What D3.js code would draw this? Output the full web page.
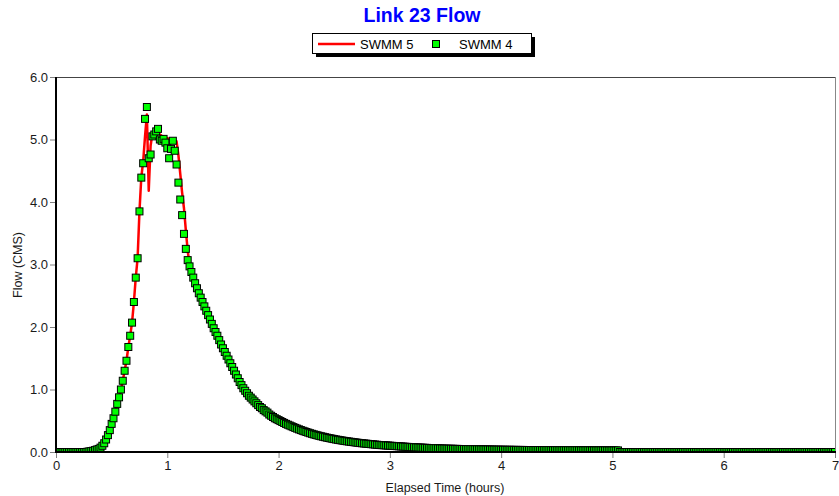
<!DOCTYPE html>
<html>
<head>
<meta charset="utf-8">
<script src="https://cdn.jsdelivr.net/npm/d3@7"></script>
<style>
  html, body { margin: 0; padding: 0; background: #fff; }
  svg { display: block; font-family: "Liberation Sans", Arial, sans-serif; }
</style>
</head>
<body>
<svg id="chart" width="839" height="496"></svg>
<script>
// ---------------- DATA ----------------
const chartTitle = "Link 23 Flow";
const seriesNames = ["SWMM 5", "SWMM 4"];
const xTicks = [0, 1, 2, 3, 4, 5, 6, 7];
const yTicks = [0, 1, 2, 3, 4, 5, 6];
const stepHours = 1 / 60; // one reading per minute, 0 .. 7 h

// SWMM 4 flow (CMS), one value per minute
const swmm4 = [
  0,0,0,0,0,0,0,0,0,0, 0,0,0,0,0,0,0,0.005,0.01,0.015,
  0.02,0.03,0.04,0.05,0.07,0.10,0.14,0.20,0.27,0.35,
  0.45,0.54,0.645,0.77,0.875,1.00,1.14,1.30,1.46,1.68,
  1.86,2.07,2.40,2.79,3.10,3.85,4.39,4.62,5.33,5.52,
  4.70,4.76,5.05,5.08,5.13,5.17,5.00,4.98,5.01,4.95,
  4.86,4.70,4.85,4.98,4.82,4.60,4.31,4.04,3.79,3.49,
  3.25,3.07,2.97,2.88,2.79,2.70,2.62,2.54,2.47,2.40,
  2.33,2.26,2.19,2.12,2.05,1.98,1.92,1.86,1.79,1.72,
  1.66,1.60,1.54,1.48,1.42,1.36,1.30,1.24,1.18,1.12,
  1.07,1.02,0.98,0.94,0.90,0.87,0.84,0.81,0.78,0.75,
  0.72,0.70,0.67,0.65,0.63,0.60,0.58,0.56,0.54,0.525,
  0.51,0.495,0.48,0.465,0.45,0.437,0.424,0.411,0.398,0.386,
  0.374,0.362,0.351,0.340,0.330,0.320,0.310,0.300,0.291,0.282,
  0.274,0.266,0.258,0.251,0.244,0.237,0.230,0.224,0.218,0.212,
  0.206,0.200,0.195,0.190,0.185,0.180,0.175,0.171,0.167,0.163,
  0.159,0.155,0.151,0.147,0.143,0.140,0.137,0.134,0.131,0.128,
  0.125,0.122,0.119,0.116,0.113,0.111,0.109,0.107,0.105,0.103,
  0.101,0.099,0.097,0.095,0.093,0.091,0.089,0.087,0.085,0.083,
  0.081,0.079,0.077,0.076,0.074,0.073,0.071,0.070,0.068,0.067,
  0.066,0.064,0.063,0.062,0.061,0.060,0.058,0.057,0.056,0.055,
  0.054,0.053,0.052,0.052,0.051,0.050,0.050,0.049,0.048,0.048,
  0.047,0.046,0.046,0.045,0.045,0.044,0.043,0.043,0.042,0.042,
  0.041,0.041,0.040,0.040,0.039,0.039,0.038,0.038,0.037,0.037,
  0.036,0.036,0.036,0.035,0.035,0.035,0.034,0.034,0.034,0.033,
  0.033,0.033,0.033,0.032,0.032,0.032,0.032,0.031,0.031,0.031,
  0.031,0.031,0.030,0.030,0.030,0.030,0.030,0.029,0.029,0.029,
  0.029,0.029,0.029,0.028,0.028,0.028,0.028,0.028,0.028,0.028,
  0.027,0.027,0.027,0.027,0.027,0.027,0.027,0.027,0.026,0.026,
  0.026,0.026,0.026,0.026,0.026,0.026,0.026,0.025,0.025,0.025,
  0.025,0.025,0.025,0.025,0,0,0,0,0,0,
  0,0,0,0,0,0,0,0,0,0, 0,0,0,0,0,0,0,0,0,0,
  0,0,0,0,0,0,0,0,0,0, 0,0,0,0,0,0,0,0,0,0,
  0,0,0,0,0,0,0,0,0,0, 0,0,0,0,0,0,0,0,0,0,
  0,0,0,0,0,0,0,0,0,0, 0,0,0,0,0,0,0,0,0,0,
  0,0,0,0,0,0,0,0,0,0, 0,0,0,0,0,0,0,0,0,0,
  0,0,0,0,0,0,0,0,0,0, 0
];

// SWMM 5 flow (CMS), one value per minute
const swmm5 = [
  0,0,0,0,0,0,0,0,0,0, 0,0,0,0,0,0,0,0.005,0.01,0.015,
  0.02,0.03,0.04,0.05,0.07,0.10,0.14,0.20,0.27,0.35,
  0.45,0.54,0.645,0.77,0.875,1.00,1.14,1.30,1.46,1.68,
  1.86,2.07,2.40,2.79,3.10,3.85,4.40,4.65,5.05,5.40,
  4.18,4.90,5.10,5.12,5.12,5.10,5.08,5.06,5.04,5.03,
  5.02,5.01,5.00,5.00,4.99,4.97,4.75,4.45,4.15,3.90,
  3.55,3.22,3.00,2.88,2.79,2.70,2.62,2.54,2.47,2.40,
  2.33,2.26,2.19,2.12,2.05,1.98,1.92,1.86,1.79,1.72,
  1.66,1.60,1.54,1.48,1.42,1.36,1.30,1.24,1.18,1.12,
  1.07,1.02,0.98,0.94,0.90,0.87,0.84,0.81,0.78,0.75,
  0.72,0.70,0.67,0.65,0.63,0.60,0.58,0.56,0.54,0.525,
  0.51,0.495,0.48,0.465,0.45,0.437,0.424,0.411,0.398,0.386,
  0.374,0.362,0.351,0.340,0.330,0.320,0.310,0.300,0.291,0.282,
  0.274,0.266,0.258,0.251,0.244,0.237,0.230,0.224,0.218,0.212,
  0.206,0.200,0.195,0.190,0.185,0.180,0.175,0.171,0.167,0.163,
  0.159,0.155,0.151,0.147,0.143,0.140,0.137,0.134,0.131,0.128,
  0.125,0.122,0.119,0.116,0.113,0.111,0.109,0.107,0.105,0.103,
  0.101,0.099,0.097,0.095,0.093,0.091,0.089,0.087,0.085,0.083,
  0.081,0.079,0.077,0.076,0.074,0.073,0.071,0.070,0.068,0.067,
  0.066,0.064,0.063,0.062,0.061,0.060,0.058,0.057,0.056,0.055,
  0.054,0.053,0.052,0.052,0.051,0.050,0.050,0.049,0.048,0.048,
  0.047,0.046,0.046,0.045,0.045,0.044,0.043,0.043,0.042,0.042,
  0.041,0.041,0.040,0.040,0.039,0.039,0.038,0.038,0.037,0.037,
  0.036,0.036,0.036,0.035,0.035,0.035,0.034,0.034,0.034,0.033,
  0.033,0.033,0.033,0.032,0.032,0.032,0.032,0.031,0.031,0.031,
  0.031,0.031,0.030,0.030,0.030,0.030,0.030,0.029,0.029,0.029,
  0.029,0.029,0.029,0.028,0.028,0.028,0.028,0.028,0.028,0.028,
  0.027,0.027,0.027,0.027,0.027,0.027,0.027,0.027,0.026,0.026,
  0.026,0.026,0.026,0.026,0.026,0.026,0.026,0.025,0.025,0.025,
  0.025,0.025,0.025,0.025,0,0,0,0,0,0,
  0,0,0,0,0,0,0,0,0,0, 0,0,0,0,0,0,0,0,0,0,
  0,0,0,0,0,0,0,0,0,0, 0,0,0,0,0,0,0,0,0,0,
  0,0,0,0,0,0,0,0,0,0, 0,0,0,0,0,0,0,0,0,0,
  0,0,0,0,0,0,0,0,0,0, 0,0,0,0,0,0,0,0,0,0,
  0,0,0,0,0,0,0,0,0,0, 0,0,0,0,0,0,0,0,0,0,
  0,0,0,0,0,0,0,0,0,0, 0
];

// ---------------- CHART ----------------
const W = 839, H = 496;
const plot = { left: 56, right: 835, top: 77, bottom: 452 };
const svg = d3.select("#chart");
svg.append("rect").attr("width", W).attr("height", H).attr("fill", "#fff");

const x = d3.scaleLinear().domain([0, 7]).range([plot.left, plot.right]);
const y = d3.scaleLinear().domain([0, 6]).range([plot.bottom, plot.top]);

// frame (top / right thin)
svg.append("line").attr("x1", plot.left).attr("x2", plot.right)
  .attr("y1", plot.top + 0.5).attr("y2", plot.top + 0.5)
  .attr("stroke", "#444").attr("stroke-width", 1);
svg.append("line").attr("x1", plot.right + 0.5).attr("x2", plot.right + 0.5)
  .attr("y1", plot.top).attr("y2", plot.bottom)
  .attr("stroke", "#888").attr("stroke-width", 1);

// clip
svg.append("clipPath").attr("id", "clip").append("rect")
  .attr("x", plot.left).attr("y", plot.top)
  .attr("width", plot.right - plot.left).attr("height", plot.bottom - plot.top);

const g = svg.append("g").attr("clip-path", "url(#clip)");

const pts5 = swmm5.map((v, i) => ({ t: i * stepHours, v }));
const pts4 = swmm4.map((v, i) => ({ t: i * stepHours, v }));

g.append("path").datum(pts5)
  .attr("fill", "none").attr("stroke", "#ff0000").attr("stroke-width", 2.5)
  .attr("stroke-linejoin", "round")
  .attr("d", d3.line().x(d => x(d.t)).y(d => y(d.v)));

const ms = 7;
g.selectAll("rect.m").data(pts4).join("rect")
  .attr("class", "m")
  .attr("x", d => x(d.t) - ms / 2).attr("y", d => y(d.v) - ms / 2)
  .attr("width", ms).attr("height", ms)
  .attr("fill", "#00ff00").attr("stroke", "#000").attr("stroke-width", 1);

// axes
const fmtY = d3.format(".1f");
const yAxis = svg.append("g").attr("transform", `translate(${plot.left},0)`)
  .call(d3.axisLeft(y).tickValues(yTicks).tickFormat(fmtY).tickSize(6).tickPadding(2));
const xAxis = svg.append("g").attr("transform", `translate(0,${plot.bottom})`)
  .call(d3.axisBottom(x).tickValues(xTicks).tickFormat(d3.format("d")).tickSize(6).tickPadding(3));
[yAxis, xAxis].forEach(a => {
  a.select(".domain").remove();
  a.selectAll(".tick line").attr("stroke", "#808080");
  a.selectAll(".tick text").attr("fill", "#1a1a1a")
    .style("font-family", "'Liberation Sans', Arial, sans-serif").style("font-size", "13px");
});

// thick axis lines
svg.append("line").attr("x1", plot.left).attr("x2", plot.left)
  .attr("y1", plot.top).attr("y2", plot.bottom + 1)
  .attr("stroke", "#000").attr("stroke-width", 2);
svg.append("line").attr("x1", plot.left - 1).attr("x2", plot.right + 1)
  .attr("y1", plot.bottom).attr("y2", plot.bottom)
  .attr("stroke", "#000").attr("stroke-width", 2);

// title
svg.append("text").attr("x", 422).attr("y", 22).attr("text-anchor", "middle")
  .attr("fill", "#0000ff").style("font-size", "19.5px").style("font-weight", "bold")
  .text(chartTitle);

// axis labels
svg.append("text").attr("x", 445).attr("y", 492).attr("text-anchor", "middle")
  .attr("fill", "#1a1a1a").style("font-size", "12.5px").text("Elapsed Time (hours)");
svg.append("text").attr("transform", "translate(22,265) rotate(-90)")
  .attr("text-anchor", "middle").attr("fill", "#1a1a1a").style("font-size", "12.5px")
  .text("Flow (CMS)");

// legend
const lg = svg.append("g");
lg.append("rect").attr("x", 316).attr("y", 37).attr("width", 219).attr("height", 20).attr("fill", "#000");
lg.append("rect").attr("x", 312.5).attr("y", 33.5).attr("width", 219).attr("height", 20)
  .attr("fill", "#fff").attr("stroke", "#000").attr("stroke-width", 1);
lg.append("line").attr("x1", 318).attr("x2", 355).attr("y1", 44).attr("y2", 44)
  .attr("stroke", "#ff0000").attr("stroke-width", 2.5);
lg.append("text").attr("x", 360).attr("y", 48.5).style("font-size", "13px").attr("fill", "#000").text(seriesNames[0]);
lg.append("rect").attr("x", 432.5).attr("y", 40.5).attr("width", 7).attr("height", 7)
  .attr("fill", "#00ff00").attr("stroke", "#000").attr("stroke-width", 1);
lg.append("text").attr("x", 459).attr("y", 48.5).style("font-size", "13px").attr("fill", "#000").text(seriesNames[1]);
</script>
</body>
</html>
